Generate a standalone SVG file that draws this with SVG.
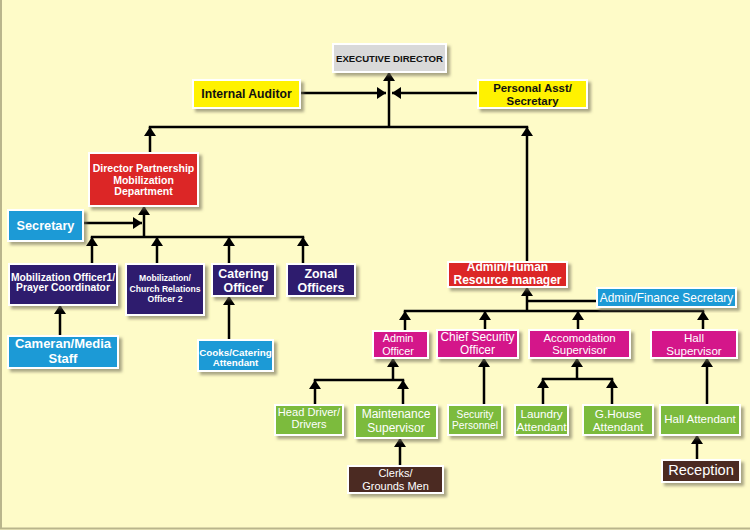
<svg xmlns="http://www.w3.org/2000/svg" width="750" height="530" viewBox="0 0 750 530">
<defs>
<filter id="sh" x="-10%" y="-10%" width="130%" height="140%">
<feDropShadow dx="3" dy="3" stdDeviation="1.5" flood-color="#6f6c55" flood-opacity="0.6"/>
</filter>
<marker id="ah" viewBox="0 0 9 12" refX="9" refY="6" markerWidth="9" markerHeight="12" markerUnits="userSpaceOnUse" orient="auto">
<path d="M0,0 L9,6 L0,12 z" fill="#000"/>
</marker>
</defs>
<style>
.box{stroke:#fff;stroke-width:2;filter:url(#sh)}
.gray{fill:#d9d9d9}.yel{fill:#fff200}.red{fill:#dc2626}.blue{fill:#1b9ad6}.pur{fill:#2e1c6e}.mag{fill:#d4178a}.grn{fill:#7cbb3c}.brn{fill:#4b2a24}
text{font-family:"Liberation Sans",Arial,sans-serif;text-anchor:middle}
.b{font-weight:bold}
.w{fill:#fff}.k{fill:#111}
.c line,.c path{stroke:#000;stroke-width:2.5;fill:none}
.c .a{marker-end:url(#ah)}
</style>
<rect width="750" height="530" fill="#fefbc8"/>
<line x1="1" y1="0" x2="1" y2="529" stroke="#b9b58c" stroke-width="2"/>
<line x1="0" y1="528.5" x2="750" y2="528.5" stroke="#b9b58c" stroke-width="2"/>

<g id="connectors" class="c">
<line class="a" x1="389" y1="127" x2="389" y2="72"/>
<line class="a" x1="300" y1="93" x2="386" y2="93"/>
<line class="a" x1="478" y1="93" x2="392" y2="93"/>
<line x1="148.8" y1="127" x2="528.2" y2="127"/>
<line class="a" x1="150" y1="153" x2="150" y2="127"/>
<line class="a" x1="527" y1="262" x2="527" y2="127"/>
<line class="a" x1="83" y1="223" x2="142" y2="223"/>
<line class="a" x1="144" y1="237" x2="144" y2="206"/>
<line x1="90.8" y1="237" x2="304.2" y2="237"/>
<line class="a" x1="92" y1="264" x2="92" y2="237"/>
<line class="a" x1="157" y1="264" x2="157" y2="237"/>
<line class="a" x1="229" y1="264" x2="229" y2="237"/>
<line class="a" x1="303" y1="264" x2="303" y2="237"/>
<line class="a" x1="60" y1="336" x2="60" y2="305"/>
<line class="a" x1="229" y1="340" x2="229" y2="296"/>
<line class="a" x1="527" y1="311" x2="527" y2="287"/>
<line x1="527" y1="301" x2="597" y2="301"/>
<line x1="403.8" y1="311" x2="704.2" y2="311"/>
<line class="a" x1="405" y1="331" x2="405" y2="311"/>
<line class="a" x1="485" y1="330" x2="485" y2="311"/>
<line class="a" x1="578" y1="330" x2="578" y2="311"/>
<line class="a" x1="703" y1="330" x2="703" y2="311"/>
<line class="a" x1="393" y1="380" x2="393" y2="358"/>
<line x1="313.8" y1="380" x2="404.2" y2="380"/>
<line class="a" x1="315" y1="405" x2="315" y2="380"/>
<line class="a" x1="403" y1="405" x2="403" y2="380"/>
<line class="a" x1="484" y1="405" x2="484" y2="358"/>
<line class="a" x1="577" y1="379" x2="577" y2="358"/>
<line x1="541.8" y1="379" x2="613.2" y2="379"/>
<line class="a" x1="543" y1="405" x2="543" y2="379"/>
<line class="a" x1="612" y1="405" x2="612" y2="379"/>
<line class="a" x1="707" y1="405" x2="707" y2="358"/>
<line class="a" x1="697" y1="460" x2="697" y2="435"/>
<line class="a" x1="400" y1="466" x2="400" y2="438"/>
</g>

<g id="executive-director"><rect class="box gray" x="333" y="44" width="113" height="28"/><text class="b k" x="389.5" y="61.7" font-size="9.6">EXECUTIVE DIRECTOR</text></g>
<g id="internal-auditor"><rect class="box yel" x="193" y="80" width="107" height="28"/><text class="b k" x="246.5" y="97.6" font-size="12.2">Internal Auditor</text></g>
<g id="personal-asst"><rect class="box yel" x="478" y="80" width="109" height="28"/><text class="b k" font-size="11.4"><tspan x="532.5" y="91.8">Personal Asst/</tspan><tspan x="532.5" y="104.6">Secretary</tspan></text></g>

<g id="director-partnership"><rect class="box red" x="89" y="153" width="109" height="53"/><text class="b w" font-size="10.5"><tspan x="143.5" y="171.5">Director Partnership</tspan><tspan x="143.5" y="183.6">Mobilization</tspan><tspan x="143.5" y="194.9">Department</tspan></text></g>
<g id="secretary"><rect class="box blue" x="8" y="210" width="75" height="31"/><text class="b w" x="45.5" y="229.6" font-size="12.7">Secretary</text></g>
<g id="mobilization-officer1"><rect class="box pur" x="9" y="264" width="108" height="41"/><text class="b w" font-size="10.3"><tspan x="63" y="280.5">Mobilization Officer1/</tspan><tspan x="63" y="291.1">Prayer Coordinator</tspan></text></g>
<g id="mobilization-officer2"><rect class="box pur" x="126" y="264" width="78" height="51"/><text class="b w" font-size="8.6"><tspan x="165" y="280.8">Mobilization/</tspan><tspan x="165" y="292.1">Church Relations</tspan><tspan x="165" y="302.4">Officer 2</tspan></text></g>
<g id="catering-officer"><rect class="box pur" x="212" y="264" width="63" height="32"/><text class="b w" font-size="12.4"><tspan x="243.5" y="278.4">Catering</tspan><tspan x="243.5" y="291.7">Officer</tspan></text></g>
<g id="zonal-officers"><rect class="box pur" x="287" y="264" width="68" height="32"/><text class="b w" font-size="12.4"><tspan x="321" y="278.4">Zonal</tspan><tspan x="321" y="291.7">Officers</tspan></text></g>
<g id="cameran-media"><rect class="box blue" x="8" y="336" width="110" height="32"/><text class="b w" font-size="13"><tspan x="63" y="347.6">Cameran/Media</tspan><tspan x="63" y="362.5">Staff</tspan></text></g>
<g id="cooks"><rect class="box blue" x="198" y="340" width="75" height="31"/><text class="b w" font-size="9.8"><tspan x="235.5" y="355.5">Cooks/Catering</tspan><tspan x="235.5" y="366.1">Attendant</tspan></text></g>

<g id="admin-hr"><rect class="box red" x="448" y="262" width="119" height="25"/><text class="b w" font-size="12"><tspan x="507.5" y="271.4">Admin/Human</tspan><tspan x="507.5" y="284.2">Resource manager</tspan></text></g>
<g id="admin-finance"><rect class="box blue" x="597" y="288" width="139" height="19"/><text class="w" x="666.5" y="301.6" font-size="11.9">Admin/Finance Secretary</text></g>
<g id="admin-officer"><rect class="box mag" x="373" y="331" width="55" height="27"/><text class="w" font-size="10.8"><tspan x="398" y="341.8">Admin</tspan><tspan x="398" y="354.6">Officer</tspan></text></g>
<g id="chief-security"><rect class="box mag" x="437" y="330" width="81" height="28"/><text class="w" font-size="11.9"><tspan x="477.5" y="341.3">Chief Security</tspan><tspan x="477.5" y="354.2">Officer</tspan></text></g>
<g id="accomodation"><rect class="box mag" x="529" y="330" width="101" height="28"/><text class="w" font-size="11.4"><tspan x="579.5" y="341.5">Accomodation</tspan><tspan x="579.5" y="353.6">Supervisor</tspan></text></g>
<g id="hall-supervisor"><rect class="box mag" x="651" y="330" width="86" height="28"/><text class="w" font-size="11.6"><tspan x="694" y="341.6">Hall</tspan><tspan x="694" y="354.5">Supervisor</tspan></text></g>

<g id="head-driver"><rect class="box grn" x="275" y="405" width="68" height="30"/><text class="w" font-size="11.1"><tspan x="309" y="416">Head Driver/</tspan><tspan x="309" y="428">Drivers</tspan></text></g>
<g id="maintenance"><rect class="box grn" x="355" y="405" width="82" height="33"/><text class="w" font-size="12"><tspan x="396" y="418.3">Maintenance</tspan><tspan x="396" y="432">Supervisor</tspan></text></g>
<g id="security-personnel"><rect class="box grn" x="448" y="405" width="54" height="30"/><text class="w" font-size="10.2"><tspan x="475" y="417.6">Security</tspan><tspan x="475" y="428.6">Personnel</tspan></text></g>
<g id="laundry"><rect class="box grn" x="515" y="405" width="53" height="30"/><text class="w" font-size="11.7"><tspan x="541.5" y="418">Laundry</tspan><tspan x="541.5" y="431">Attendant</tspan></text></g>
<g id="ghouse"><rect class="box grn" x="583" y="405" width="70" height="30"/><text class="w" font-size="11.8"><tspan x="618" y="418">G.House</tspan><tspan x="618" y="431">Attendant</tspan></text></g>
<g id="hall-attendant"><rect class="box grn" x="660" y="405" width="80" height="30"/><text class="w" x="700" y="423.4" font-size="11.5">Hall Attendant</text></g>
<g id="clerks"><rect class="box brn" x="348" y="466" width="95" height="27"/><text class="w" font-size="11"><tspan x="395.5" y="477.3">Clerks/</tspan><tspan x="395.5" y="489.7">Grounds Men</tspan></text></g>
<g id="reception"><rect class="box brn" x="662" y="460" width="78" height="22"/><text class="w" x="701" y="475.4" font-size="14.6">Reception</text></g>
</svg>
